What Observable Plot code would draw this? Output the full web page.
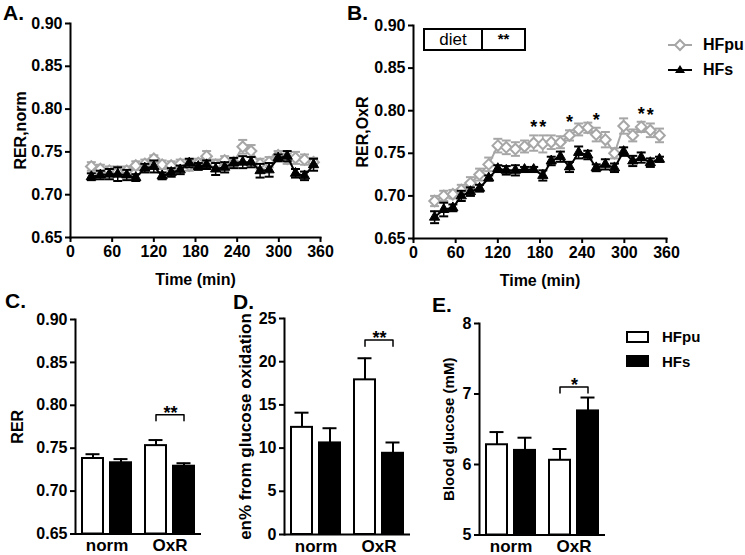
<!DOCTYPE html>
<html><head><meta charset="utf-8">
<script src="https://cdn.jsdelivr.net/npm/d3@7"></script>
<script src="https://cdn.jsdelivr.net/npm/@observablehq/plot@0.6"></script>
<style>
body{margin:0;background:#fff;}
#fig{position:relative;width:745px;height:555px;font-family:"Liberation Sans",Arial,sans-serif;color:#000;overflow:hidden;background:#fff}
.panel{position:absolute}
.panel svg{overflow:visible}
.panel [aria-label$="tick"]{stroke-width:2px}
.panel [aria-label="frame"], .panel .domain{stroke-width:2px}
.panel [aria-label$="tick label"]{font-size:16px}
.panel [aria-label$="axis label"]{font-size:16px}
.panel [aria-label="fx-axis tick label"]{font-size:17px}
#pD [aria-label="y-axis label"]{font-size:17px}
#pE [aria-label="y-axis label"]{font-size:15px}
.letter{position:absolute;font-weight:bold;font-size:21px;line-height:1}
.lab{position:absolute;font-weight:bold;font-size:16px;line-height:16px;white-space:nowrap}
</style>
</head><body>
<div id="fig"></div>
<script>
// ---------- data ----------
const times = [30,43,56,68,81,94,107,120,132,145,158,171,184,196,209,222,235,248,260,273,286,299,312,324,337,350];
const xTicks = [0,60,120,180,240,300,360];
const rerTicks = [0.65,0.70,0.75,0.80,0.85,0.90];

// A. RER during normal conditions
const normHFpu    = [0.733,0.730,0.728,0.727,0.728,0.734,0.736,0.742,0.735,0.734,0.736,0.734,0.737,0.745,0.735,0.740,0.738,0.756,0.751,0.736,0.738,0.746,0.742,0.743,0.741,0.738];
const normHFpuSem = [0.005,0.005,0.005,0.006,0.005,0.005,0.005,0.004,0.005,0.005,0.005,0.006,0.005,0.006,0.006,0.005,0.005,0.008,0.007,0.006,0.006,0.005,0.006,0.007,0.006,0.005];
const normHFs     = [0.721,0.723,0.724,0.724,0.723,0.720,0.731,0.733,0.722,0.726,0.729,0.737,0.733,0.735,0.730,0.732,0.737,0.738,0.738,0.728,0.729,0.743,0.745,0.725,0.722,0.735];
const normHFsSem  = [0.004,0.005,0.006,0.008,0.006,0.004,0.005,0.007,0.004,0.005,0.005,0.005,0.004,0.005,0.007,0.006,0.006,0.007,0.006,0.008,0.008,0.004,0.006,0.005,0.005,0.007];

// B. RER during oxidative regime
const oxrHFpu     = [0.694,0.700,0.702,0.707,0.715,0.725,0.737,0.759,0.757,0.755,0.758,0.762,0.761,0.763,0.763,0.771,0.778,0.780,0.772,0.766,0.750,0.782,0.771,0.781,0.777,0.771];
const oxrHFpuSem  = [0.006,0.006,0.005,0.006,0.007,0.007,0.008,0.008,0.008,0.008,0.007,0.009,0.010,0.008,0.007,0.006,0.007,0.006,0.008,0.009,0.006,0.009,0.007,0.006,0.008,0.008];
const oxrHFs      = [0.675,0.684,0.686,0.700,0.705,0.709,0.721,0.732,0.730,0.730,0.731,0.731,0.724,0.741,0.746,0.734,0.751,0.748,0.733,0.737,0.733,0.752,0.741,0.745,0.739,0.743];
const oxrHFsSem   = [0.007,0.008,0.004,0.006,0.005,0.004,0.003,0.004,0.005,0.006,0.003,0.003,0.006,0.005,0.006,0.006,0.007,0.005,0.004,0.006,0.005,0.005,0.006,0.006,0.005,0.003];
const oxrStarIdx  = [11,12,15,18,23,24];

// C-E. bar charts
const groups = ["norm","OxR"];
const diets = ["HFpu","HFs"];
const rerHFpu = [0.738,0.753], rerHFpuSem = [0.005,0.0065];
const rerHFs  = [0.733,0.729], rerHFsSem  = [0.0043,0.0035];
const gluHFpu = [12.4,17.9],   gluHFpuSem = [1.7,2.5];
const gluHFs  = [10.6,9.4],    gluHFsSem  = [1.7,1.25];
const bgHFpu  = [6.28,6.06],   bgHFpuSem  = [0.18,0.16];
const bgHFs   = [6.20,6.76],   bgHFsSem   = [0.18,0.19];

// ---------- drawing ----------
const gray = "#a6a6a6";
const font = '"Liberation Sans", Arial, sans-serif';
const baseStyle = {fontFamily: font, fontSize: "16px", fontWeight: "bold", background: "transparent", overflow: "visible", color: "black"};
const fig = document.getElementById("fig");
function mount(id, left, top, node){
  const d = document.createElement("div");
  d.className = "panel"; d.id = id;
  d.style.left = left + "px"; d.style.top = top + "px";
  d.appendChild(node); fig.appendChild(d);
}
function html(cls, left, top, text, extra){
  const d = document.createElement("div");
  d.className = cls; d.style.left = left + "px"; d.style.top = top + "px";
  d.textContent = text; if (extra) Object.assign(d.style, extra);
  fig.appendChild(d); return d;
}
const capSymbol = {draw(ctx, size){ const r = Math.sqrt(size / Math.PI); ctx.moveTo(-r, 0); ctx.lineTo(r, 0); }};
function series(vals, sems){ return times.map((t, i) => ({t, m: vals[i], s: sems[i]})); }
function errMarks(rows, color){
  return [
    Plot.ruleX(rows, {x: "t", y1: d => d.m - d.s, y2: d => d.m + d.s, stroke: color, strokeWidth: 1.5}),
    Plot.dot(rows, {x: "t", y: d => d.m + d.s, symbol: capSymbol, r: 4.5, stroke: color, fill: "none", strokeWidth: 2}),
    Plot.dot(rows, {x: "t", y: d => d.m - d.s, symbol: capSymbol, r: 4.5, stroke: color, fill: "none", strokeWidth: 2})
  ];
}
function timePanel(o){
  const a = series(o.pu, o.puS), b = series(o.fs, o.fsS);
  return Plot.plot({
    width: o.width, height: 290,
    marginLeft: o.mL, marginRight: o.mR, marginTop: o.mT, marginBottom: o.mB,
    style: baseStyle,
    x: {domain: [0,360], ticks: xTicks, tickSize: 5, tickPadding: 3, line: true,
        label: "Time (min)", labelAnchor: "center", labelOffset: 47, labelArrow: "none"},
    y: {domain: [0.65,0.90], ticks: rerTicks, tickFormat: d3.format(".2f"), tickSize: 5, tickPadding: 3, line: true,
        label: o.ylabel, labelAnchor: "center", labelOffset: o.yOff, labelArrow: "none"},
    marks: [
      ...errMarks(a, gray),
      Plot.line(a, {x: "t", y: "m", stroke: gray, strokeWidth: 2}),
      Plot.dot(a, {x: "t", y: "m", symbol: "diamond2", r: 4.8, stroke: gray, fill: "white", strokeWidth: 2}),
      ...errMarks(b, "black"),
      Plot.line(b, {x: "t", y: "m", stroke: "black", strokeWidth: 2}),
      Plot.dot(b, {x: "t", y: "m", symbol: "triangle", r: 3.8, fill: "black", stroke: "black", strokeWidth: 1}),
      Plot.text((o.stars || []).map(i => a[i]), {x: "t", y: d => d.m + d.s, text: () => "*", lineAnchor: "bottom", dy: -2, fontSize: 18})
    ]
  });
}
function barPanel(o){
  const rows = groups.flatMap((g, i) => [
    {group: g, diet: "HFpu", mean: o.pu[i], sem: o.puS[i]},
    {group: g, diet: "HFs",  mean: o.fs[i], sem: o.fsS[i]}
  ]);
  const br = [
    {diet: "HFpu", y: o.sigY - o.drop}, {diet: "HFpu", y: o.sigY},
    {diet: "HFs", y: o.sigY}, {diet: "HFs", y: o.sigY - o.drop}
  ];
  const y0 = o.domain[0];
  return Plot.plot({
    width: o.width, height: 275,
    marginLeft: o.mL, marginRight: o.mR, marginTop: o.mT, marginBottom: o.mB,
    style: baseStyle,
    fx: {domain: groups, padding: 0, axis: "bottom", tickSize: 0, tickPadding: 5, label: null},
    x: {domain: diets, paddingInner: 0.241, paddingOuter: 0.2155, axis: null},
    y: {domain: o.domain, ticks: o.ticks, tickFormat: o.fmt, tickSize: 5, tickPadding: 3, line: true,
        label: o.ylabel, labelAnchor: "center", labelOffset: o.yOff, labelArrow: "none"},
    marks: [
      Plot.ruleY([y0], {strokeWidth: 2}),
      Plot.ruleX(rows, {fx: "group", x: "diet", y1: "mean", y2: d => d.mean + d.sem, strokeWidth: 2}),
      Plot.tickY(rows, {fx: "group", x: "diet", y: d => d.mean + d.sem, strokeWidth: 2, insetLeft: 3.5, insetRight: 3.5}),
      Plot.barY(rows, {fx: "group", x: "diet", y1: y0, y2: "mean", fill: d => d.diet === "HFpu" ? "white" : "black", stroke: "black", strokeWidth: 2}),
      Plot.line(br, {fx: () => "OxR", x: "diet", y: "y", stroke: "black", strokeWidth: 1.5}),
      Plot.text([o.sig], {fx: () => "OxR", x: () => "HFpu", y: () => o.sigY, dx: 14.5, dy: 4, text: d => d, lineAnchor: "bottom", fontSize: 18})
    ]
  });
}

mount("pA", 0, 0, timePanel({pu: normHFpu, puS: normHFpuSem, fs: normHFs, fsS: normHFsSem, ylabel: "RER,norm",
  width: 340, mL: 70, mR: 20, mT: 23, mB: 53, yOff: 56}));
mount("pB", 340, 0, timePanel({pu: oxrHFpu, puS: oxrHFpuSem, fs: oxrHFs, fsS: oxrHFsSem, ylabel: "RER,OxR",
  width: 335, mL: 73, mR: 9, mT: 25, mB: 52, yOff: 57, stars: oxrStarIdx}));
mount("pC", 0, 280, barPanel({pu: rerHFpu, puS: rerHFpuSem, fs: rerHFs, fsS: rerHFsSem, domain: [0.65,0.90], ticks: rerTicks,
  fmt: d3.format(".2f"), ylabel: "RER", width: 215, mL: 74, mR: 14, mT: 39, mB: 21.5, yOff: 64, sig: "**", sigY: 0.789, drop: 0.007}));
mount("pD", 220, 280, barPanel({pu: gluHFpu, puS: gluHFpuSem, fs: gluHFs, fsS: gluHFsSem, domain: [0,25], ticks: [0,5,10,15,20,25],
  fmt: d3.format("d"), ylabel: "en% from glucose oxidation", width: 200, mL: 63, mR: 10, mT: 38, mB: 21, yOff: 46, sig: "**", sigY: 22.5, drop: 0.7}));
mount("pE", 425, 280, barPanel({pu: bgHFpu, puS: bgHFpuSem, fs: bgHFs, fsS: bgHFsSem, domain: [5,8], ticks: [5,6,7,8],
  fmt: d3.format("d"), ylabel: "Blood glucose (mM)", width: 190, mL: 54, mR: 10, mT: 43, mB: 20.5, yOff: 36, sig: "*", sigY: 7.1, drop: 0.085}));

// panel letters
html("letter", 3, 2, "A.");
html("letter", 347, 2, "B.");
html("letter", 5, 290, "C.");
html("letter", 233, 291, "D.");
html("letter", 432, 294, "E.");

// diet box in B
const box = html("", 423, 28, "", {position: "absolute", width: "103px", height: "23px", boxSizing: "border-box", border: "2px solid black"});
const cell = document.createElement("div");
Object.assign(cell.style, {position: "absolute", left: "0", top: "0", width: "58px", height: "19px", borderRight: "2px solid black", boxSizing: "border-box",
  font: "17px " + font, lineHeight: "19px", textAlign: "center"});
cell.textContent = "diet"; box.appendChild(cell);
const cell2 = document.createElement("div");
Object.assign(cell2.style, {position: "absolute", left: "58px", top: "-1px", width: "41px", font: "bold 15px " + font, lineHeight: "19px", textAlign: "center"});
cell2.textContent = "**"; box.appendChild(cell2);

// legend B (line + symbol)
const ns = "http://www.w3.org/2000/svg";
const lg = document.createElementNS(ns, "svg");
lg.setAttribute("width", "30"); lg.setAttribute("height", "40");
Object.assign(lg.style, {position: "absolute", left: "665px", top: "35px"});
lg.innerHTML = `<line x1="3" x2="27" y1="10" y2="10" stroke="${gray}" stroke-width="2"/>
<polygon points="15,5 20,10 15,15 10,10" fill="white" stroke="${gray}" stroke-width="2"/>
<line x1="3" x2="27" y1="35" y2="35" stroke="black" stroke-width="2"/>
<polygon points="15,30 20,38 10,38" fill="black"/>`;
fig.appendChild(lg);
html("lab", 703, 37, "HFpu");
html("lab", 703, 62, "HFs");

// legend E (boxes)
html("", 626, 331, "", {position: "absolute", width: "23px", height: "12px", boxSizing: "border-box", border: "2px solid black", background: "white"});
html("", 626, 355, "", {position: "absolute", width: "23px", height: "12px", background: "black"});
html("lab", 662, 329, "HFpu", {fontSize: "15px"});
html("lab", 662, 354, "HFs", {fontSize: "15px"});
</script>
</body></html>
